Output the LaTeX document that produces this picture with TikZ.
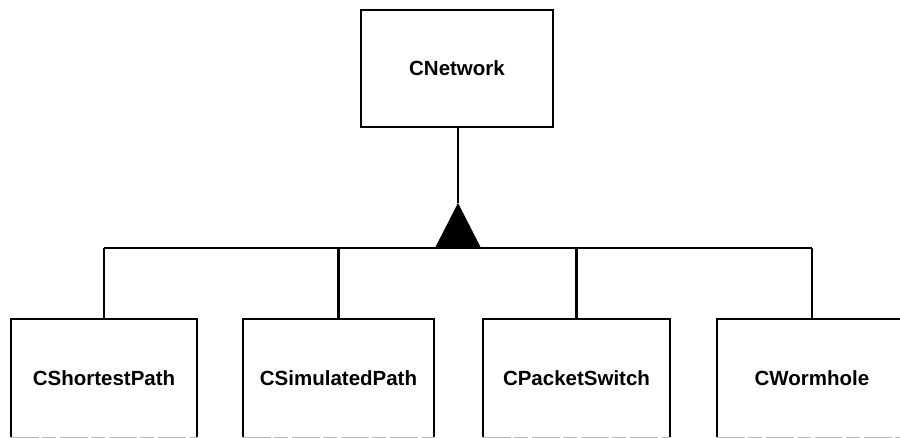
\documentclass[tikz,border=0pt]{standalone}
\usepackage{fontspec}
\setmainfont{Liberation Sans}
\newfontfamily\classfont{Liberation Sans Bold}
\begin{document}
\begin{tikzpicture}[x=1pt,y=-1pt,
  openbox/.style={rectangle, minimum height=117pt, inner sep=0pt,
    font=\classfont\fontsize{20.5}{24}\selectfont},
  classbox/.style={openbox, draw, line width=2.4pt},
  link/.style={line width=2.2pt}]
\useasboundingbox (0,0) rectangle (900,438);

% superclass
\node[classbox, minimum width=192pt] (net) at (457,68.5) {CNetwork};

% subclasses (bottom edges run below the frame)
\node[openbox, minimum width=186pt] (b1) at (104,378) {CShortestPath};
\node[openbox, minimum width=191pt] (b2) at (338.5,378) {CSimulatedPath};
\node[openbox, minimum width=187pt] (b3) at (576.5,378) {CPacketSwitch};
\node[openbox, minimum width=190pt] (b4) at (812,378) {CWormhole};

\foreach \b in {b1,b2,b3,b4}{
  \draw[line width=2.4pt, line join=miter]
    (\b.south west) -- (\b.north west) -- (\b.north east) -- (\b.south east);
  \draw[line width=1.6pt, gray!55, dash pattern=on 28pt off 3pt on 14pt off 4pt]
    ([yshift=-1pt]\b.south west) -- ([yshift=-1pt]\b.south east);
}

% generalization arrow
\coordinate (apex) at (458,203);
\coordinate (busy) at (0,248);
\draw[link] (net.south -| apex) -- (apex);
\fill (apex) -- ++(-23,45) -- ++(46,0) -- cycle;

% bus and branches
\draw[link] (b1.north |- busy) -- (b4.north |- busy);
\foreach \b in {b1,b2,b3,b4}{
  \draw[link] (\b.north) -- (\b.north |- busy);
}
\end{tikzpicture}
\end{document}
